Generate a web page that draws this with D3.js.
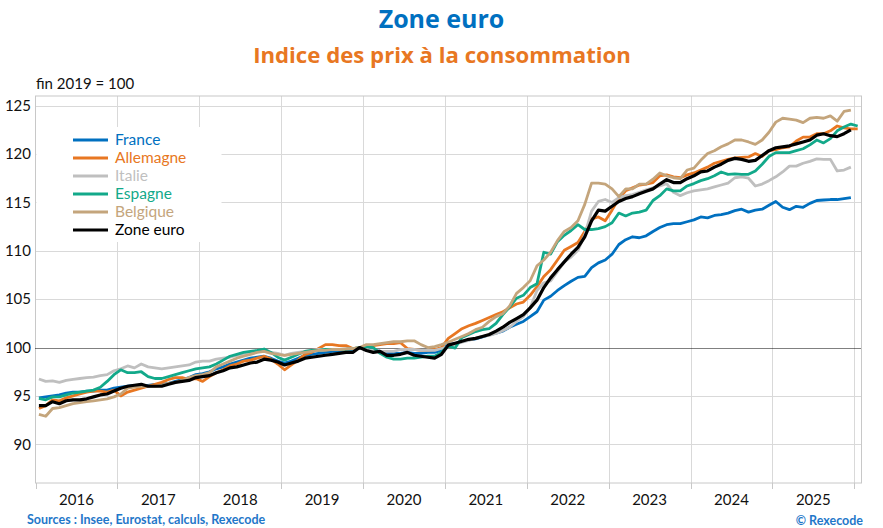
<!DOCTYPE html>
<html>
<head>
<meta charset="utf-8">
<script src="https://cdn.jsdelivr.net/npm/d3@7"></script>
<style>
	body { margin: 0; background: #fff; }
	text { font-family: Lato, "Open Sans", sans-serif; }
	text.titre { font-family: "Open Sans", Lato, sans-serif; }
</style>
</head>
<body>
<div id="chart"></div>
<script>
// indices mensuels, fin 2019 = 100, janvier 2016 -> decembre 2025 (janvier 2026 pour certains)
var years = ["2016", "2017", "2018", "2019", "2020", "2021", "2022", "2023", "2024", "2025"];
var yTicks = [90, 95, 100, 105, 110, 115, 120, 125];

var france = [
	94.8, 94.9, 95.0, 95.1, 95.3, 95.4, 95.4, 95.5, 95.5, 95.6, 95.6, 95.8,
	95.9, 96.0, 96.1, 96.1, 96.1, 96.2, 96.2, 96.3, 96.5, 96.7, 96.9, 97.2,
	97.3, 97.5, 97.8, 98.0, 98.3, 98.5, 98.7, 98.9, 99.0, 99.1, 98.9, 98.6,
	98.4, 98.6, 98.9, 99.2, 99.3, 99.4, 99.5, 99.6, 99.6, 99.7, 99.8, 100.0,
	99.8, 99.8, 99.6, 99.4, 99.4, 99.4, 99.5, 99.4, 99.4, 99.5, 99.5, 99.7,
	100.3, 100.4, 100.6, 100.8, 100.9, 101.1, 101.3, 101.5, 101.7, 102.1, 102.4, 102.7,
	103.2, 103.7, 104.9, 105.3, 105.9, 106.4, 106.85, 107.25, 107.35, 108.25, 108.75, 109.05,
	109.65, 110.65, 111.15, 111.45, 111.35, 111.55, 112.0, 112.4, 112.7, 112.8, 112.8, 113.0,
	113.2, 113.5, 113.4, 113.65, 113.75, 113.9, 114.15, 114.3, 114.0, 114.2, 114.3, 114.7,
	115.1, 114.5, 114.25, 114.6, 114.5, 114.9, 115.2, 115.25, 115.3, 115.3, 115.4, 115.5
];

var allemagne = [
	93.7, 94.0, 94.6, 94.5, 94.8, 95.0, 95.2, 95.4, 95.5, 95.5, 95.4, 95.6,
	95.0, 95.4, 95.6, 95.8, 96.0, 96.2, 96.4, 96.7, 96.9, 96.9, 96.7, 96.8,
	96.5, 97.0, 97.4, 97.7, 98.1, 98.3, 98.6, 98.7, 98.9, 99.1, 98.8, 98.3,
	97.7, 98.2, 98.7, 99.3, 99.5, 99.9, 100.3, 100.3, 100.2, 100.2, 99.9, 100.0,
	100.0, 100.2, 100.3, 100.4, 100.4, 100.5, 99.9, 99.8, 99.7, 99.7, 99.8, 100.0,
	100.95, 101.45, 101.95, 102.25, 102.5, 102.8, 103.1, 103.4, 103.7, 104.1, 104.5, 104.7,
	105.4, 106.3, 107.35, 108.05, 109.05, 110.05, 110.45, 110.85, 112.0, 113.3, 113.5, 113.1,
	114.2, 115.4, 116.2, 116.5, 116.8, 116.9, 117.05, 117.75, 117.85, 117.65, 117.55, 117.85,
	118.05, 118.35, 118.65, 119.05, 119.25, 119.45, 119.6, 119.65, 119.7, 120.05, 119.75, 120.35,
	120.45, 120.65, 120.75, 121.35, 121.75, 121.75, 122.1, 122.1, 122.4, 122.9, 122.7, 122.6,
	122.6
];

var italie = [
	96.75, 96.5, 96.55, 96.4, 96.6, 96.7, 96.8, 96.9, 96.95, 97.1, 97.2, 97.6,
	97.8, 98.1, 97.9, 98.3, 98.0, 97.9, 97.8, 97.9, 98.0, 98.1, 98.2, 98.5,
	98.6, 98.6, 98.8, 98.9, 99.0, 99.2, 99.3, 99.5, 99.6, 99.6, 99.5, 99.4,
	99.2, 99.4, 99.5, 99.6, 99.7, 99.8, 99.8, 99.8, 99.8, 99.85, 99.9, 100.0,
	99.8, 99.7, 99.6, 99.6, 99.6, 99.8, 99.8, 99.8, 99.7, 99.7, 99.7, 99.9,
	100.1, 100.35, 100.55, 100.75, 100.95, 101.15, 101.25, 101.45, 101.75, 102.1, 102.7, 103.2,
	104.1, 105.9, 106.7, 106.9, 107.85, 108.85, 109.35, 110.05, 111.65, 114.1, 115.1, 115.3,
	115.0, 115.5, 115.7, 115.8, 116.05, 116.3, 116.5, 116.7, 116.95, 116.05, 115.7, 116.0,
	116.2, 116.3, 116.4, 116.6, 116.8, 117.0, 117.55, 117.65, 117.5, 116.7, 116.9, 117.25,
	117.65, 118.15, 118.75, 118.75, 119.05, 119.25, 119.5, 119.45, 119.45, 118.25, 118.35, 118.65
];

var espagne = [
	94.75, 94.6, 94.9, 94.9, 95.1, 95.3, 95.4, 95.5, 95.6, 95.9, 96.5, 97.2,
	97.7, 97.4, 97.4, 97.5, 97.0, 96.8, 96.8, 97.0, 97.2, 97.4, 97.6, 97.8,
	97.9, 98.0, 98.3, 98.7, 99.1, 99.3, 99.5, 99.6, 99.7, 99.85, 99.5, 99.0,
	98.7, 99.0, 99.3, 99.6, 99.7, 99.7, 99.8, 99.8, 99.8, 99.8, 99.9, 100.0,
	100.1, 100.0, 99.4, 99.0, 98.8, 98.8, 98.9, 98.9, 99.0, 99.1, 99.1, 99.5,
	100.15, 99.95, 101.05, 101.35, 101.65, 101.85, 101.95, 102.5, 103.4, 104.2, 105.1, 105.4,
	106.2, 106.6, 109.85, 109.65, 110.95, 111.6, 112.1, 112.7, 112.2, 112.2, 112.3, 112.5,
	112.9, 113.9, 113.6, 113.9, 114.0, 114.2, 115.2, 115.7, 116.4, 116.2, 116.2, 116.7,
	116.95, 117.25, 117.45, 117.75, 118.15, 117.9, 117.95, 117.9, 117.9, 118.25, 118.95, 119.75,
	120.15, 120.15, 120.15, 120.35, 120.55, 120.95, 121.45, 121.15, 121.6, 122.4, 122.8, 123.1,
	122.9
];

var belgique = [
	93.1, 92.9, 93.7, 93.8, 94.0, 94.2, 94.3, 94.4, 94.5, 94.6, 94.7, 94.9,
	95.2, 95.8, 95.9, 96.0, 96.0, 96.0, 96.1, 96.3, 96.4, 96.6, 96.9, 97.1,
	97.2, 97.4, 98.0, 98.3, 98.6, 98.9, 99.1, 99.3, 99.5, 99.6, 99.4, 99.3,
	99.2, 99.3, 99.4, 99.5, 99.6, 99.7, 99.7, 99.8, 99.8, 99.85, 99.9, 100.0,
	100.3, 100.3, 100.4, 100.5, 100.6, 100.6, 100.7, 100.7, 100.3, 100.0, 100.1, 100.3,
	100.55, 100.85, 101.15, 101.45, 101.85, 102.1, 102.7, 103.2, 103.5, 104.3, 105.6, 106.2,
	106.9, 108.45, 109.05, 109.85, 111.05, 112.0, 112.4, 113.1, 114.8, 117.0, 117.0, 116.9,
	116.4, 115.6, 116.4, 116.4, 116.9, 116.9, 117.4, 118.05, 117.75, 117.55, 117.45, 118.35,
	118.55, 119.35, 120.05, 120.35, 120.75, 121.05, 121.45, 121.45, 121.25, 121.0, 121.45, 122.25,
	123.3, 123.7, 123.6, 123.5, 123.25, 123.7, 123.8, 123.7, 123.95, 123.4, 124.4, 124.55
];

var zoneEuro = [
	94.0, 94.0, 94.4, 94.2, 94.5, 94.6, 94.6, 94.7, 94.9, 95.1, 95.2, 95.5,
	95.8, 96.0, 96.1, 96.2, 96.0, 96.0, 96.0, 96.2, 96.4, 96.5, 96.6, 96.9,
	97.0, 97.1, 97.4, 97.6, 97.9, 98.0, 98.2, 98.4, 98.5, 98.8, 98.7, 98.5,
	98.2, 98.4, 98.6, 98.9, 99.0, 99.1, 99.2, 99.3, 99.4, 99.5, 99.5, 100.0,
	99.7, 99.5, 99.6, 99.2, 99.2, 99.3, 99.5, 99.2, 99.1, 99.0, 98.9, 99.3,
	100.25, 100.45, 100.65, 100.85, 100.95, 101.15, 101.35, 101.7, 102.1, 102.6, 103.0, 103.4,
	104.1, 104.9, 106.2, 107.2, 108.05, 108.85, 109.65, 110.35, 111.45, 113.1, 114.2, 114.1,
	114.6, 115.1, 115.4, 115.6, 115.9, 116.15, 116.4, 116.9, 117.35, 117.05, 117.05, 117.45,
	117.75, 118.15, 118.25, 118.65, 118.95, 119.35, 119.55, 119.45, 119.25, 119.35, 119.85, 120.35,
	120.65, 120.75, 120.85, 121.05, 121.25, 121.45, 121.95, 122.1, 121.9, 121.8, 122.1, 122.5
];

var seriesNames = ["France", "Allemagne", "Italie", "Espagne", "Belgique", "Zone euro"];
var seriesColors = ["#0070c0", "#e87722", "#bfbfbf", "#12a98a", "#c4a57c", "#000000"];
var seriesValues = [france, allemagne, italie, espagne, belgique, zoneEuro];

var width = 883,
	height = 528;

var margin = {left: 35.5, right: 21.5, top: 96, bottom: 45};

var svg = d3.select("#chart")
	.append("svg")
		.attr("width", width)
		.attr("height", height);

var x = d3.scaleLinear()
	.domain([0, 121.06])
	.range([margin.left, width - margin.right]);

var y = d3.scaleLinear()
	.domain([86, 126])
	.range([height - margin.bottom, margin.top]);

// grille
var grid = svg.append("g");

grid.selectAll("line.h")
	.data(yTicks.filter(function(d) { return d !== 100; }))
	.enter().append("line")
		.attr("class", "h")
		.attr("x1", x(0)).attr("x2", x.range()[1])
		.attr("y1", function(d) { return Math.round(y(d)) + 0.5; })
		.attr("y2", function(d) { return Math.round(y(d)) + 0.5; })
		.attr("stroke", "#d9d9d9");

grid.selectAll("line.v")
	.data(d3.range(1, 11))
	.enter().append("line")
		.attr("class", "v")
		.attr("x1", function(d) { return Math.round(x(d * 12)) + 0.5; })
		.attr("x2", function(d) { return Math.round(x(d * 12)) + 0.5; })
		.attr("y1", y.range()[1]).attr("y2", y.range()[0])
		.attr("stroke", "#d9d9d9");

// cadre
svg.append("rect")
	.attr("x", x(0))
	.attr("y", y.range()[1])
	.attr("width", x.range()[1] - x(0))
	.attr("height", y.range()[0] - y.range()[1])
	.attr("fill", "none")
	.attr("stroke", "#c8c8c8");

// graduations de l'axe des x
svg.selectAll("line.tick")
	.data(d3.range(0, 11))
	.enter().append("line")
		.attr("class", "tick")
		.attr("x1", function(d) { return Math.round(x(d * 12)) + 0.5; })
		.attr("x2", function(d) { return Math.round(x(d * 12)) + 0.5; })
		.attr("y1", y.range()[0]).attr("y2", y.range()[0] + 6)
		.attr("stroke", "#c8c8c8");

// cache derriere la legende
svg.append("rect")
	.attr("x", x(0) + 1)
	.attr("y", 127)
	.attr("width", 185)
	.attr("height", 115)
	.attr("fill", "#fff");

// ligne de base 100
svg.append("line")
	.attr("x1", x(0)).attr("x2", x.range()[1])
	.attr("y1", Math.round(y(100)) + 0.5)
	.attr("y2", Math.round(y(100)) + 0.5)
	.attr("stroke", "#000")
	.attr("stroke-dasharray", "1,1");

// courbes
var line = d3.line()
	.x(function(d, i) { return x(i + 0.5); })
	.y(function(d) { return y(d); });

svg.selectAll("path.serie")
	.data(seriesValues)
	.enter().append("path")
		.attr("class", "serie")
		.attr("d", line)
		.attr("fill", "none")
		.attr("stroke", function(d, i) { return seriesColors[i]; })
		.attr("stroke-width", function(d, i) { return i === 5 ? 3.2 : 2.8; })
		.attr("stroke-linejoin", "round");

// axe des y
svg.selectAll("text.ylab")
	.data(yTicks)
	.enter().append("text")
		.attr("class", "ylab")
		.attr("x", 31)
		.attr("y", function(d) { return y(d); })
		.attr("dy", "0.35em")
		.attr("text-anchor", "end")
		.attr("font-size", 15)
		.attr("fill", "#111")
		.text(function(d) { return d; });

// axe des x
svg.selectAll("text.xlab")
	.data(years)
	.enter().append("text")
		.attr("class", "xlab")
		.attr("x", function(d, i) { return x(i * 12 + 6); })
		.attr("y", 505)
		.attr("text-anchor", "middle")
		.attr("font-size", 15)
		.attr("fill", "#111")
		.text(function(d) { return d; });

// legende
var legend = svg.append("g");

var rows = legend.selectAll("g")
	.data(seriesNames)
	.enter().append("g")
		.attr("transform", function(d, i) { return "translate(0," + (140 + i * 18) + ")"; });

rows.append("line")
	.attr("x1", 73).attr("x2", 108)
	.attr("stroke", function(d, i) { return seriesColors[i]; })
	.attr("stroke-width", 3);

rows.append("text")
	.attr("x", 115)
	.attr("dy", "0.35em")
	.attr("font-size", 15.5)
	.attr("fill", function(d, i) { return seriesColors[i]; })
	.text(function(d) { return d; });

// titres
svg.append("text")
	.attr("class", "titre")
	.attr("x", width / 2)
	.attr("y", 28)
	.attr("text-anchor", "middle")
	.attr("font-size", 25)
	.attr("font-weight", "bold")
	.attr("fill", "#0070c0")
	.text("Zone euro");

svg.append("text")
	.attr("class", "titre")
	.attr("x", 442)
	.attr("y", 63)
	.attr("text-anchor", "middle")
	.attr("font-size", 22.2)
	.attr("font-weight", "bold")
	.attr("fill", "#e87722")
	.text("Indice des prix à la consommation");

svg.append("text")
	.attr("x", 36)
	.attr("y", 89)
	.attr("font-size", 15)
	.attr("fill", "#111")
	.text("fin 2019 = 100");

svg.append("text")
	.attr("x", 27)
	.attr("y", 524)
	.attr("font-size", 12.5)
	.attr("font-weight", "bold")
	.attr("fill", "#1f77c9")
	.text("Sources : Insee, Eurostat, calculs, Rexecode");

svg.append("text")
	.attr("x", 863)
	.attr("y", 525)
	.attr("text-anchor", "end")
	.attr("font-size", 12.5)
	.attr("font-weight", "bold")
	.attr("fill", "#1f77c9")
	.text("© Rexecode");
</script>
</body>
</html>
